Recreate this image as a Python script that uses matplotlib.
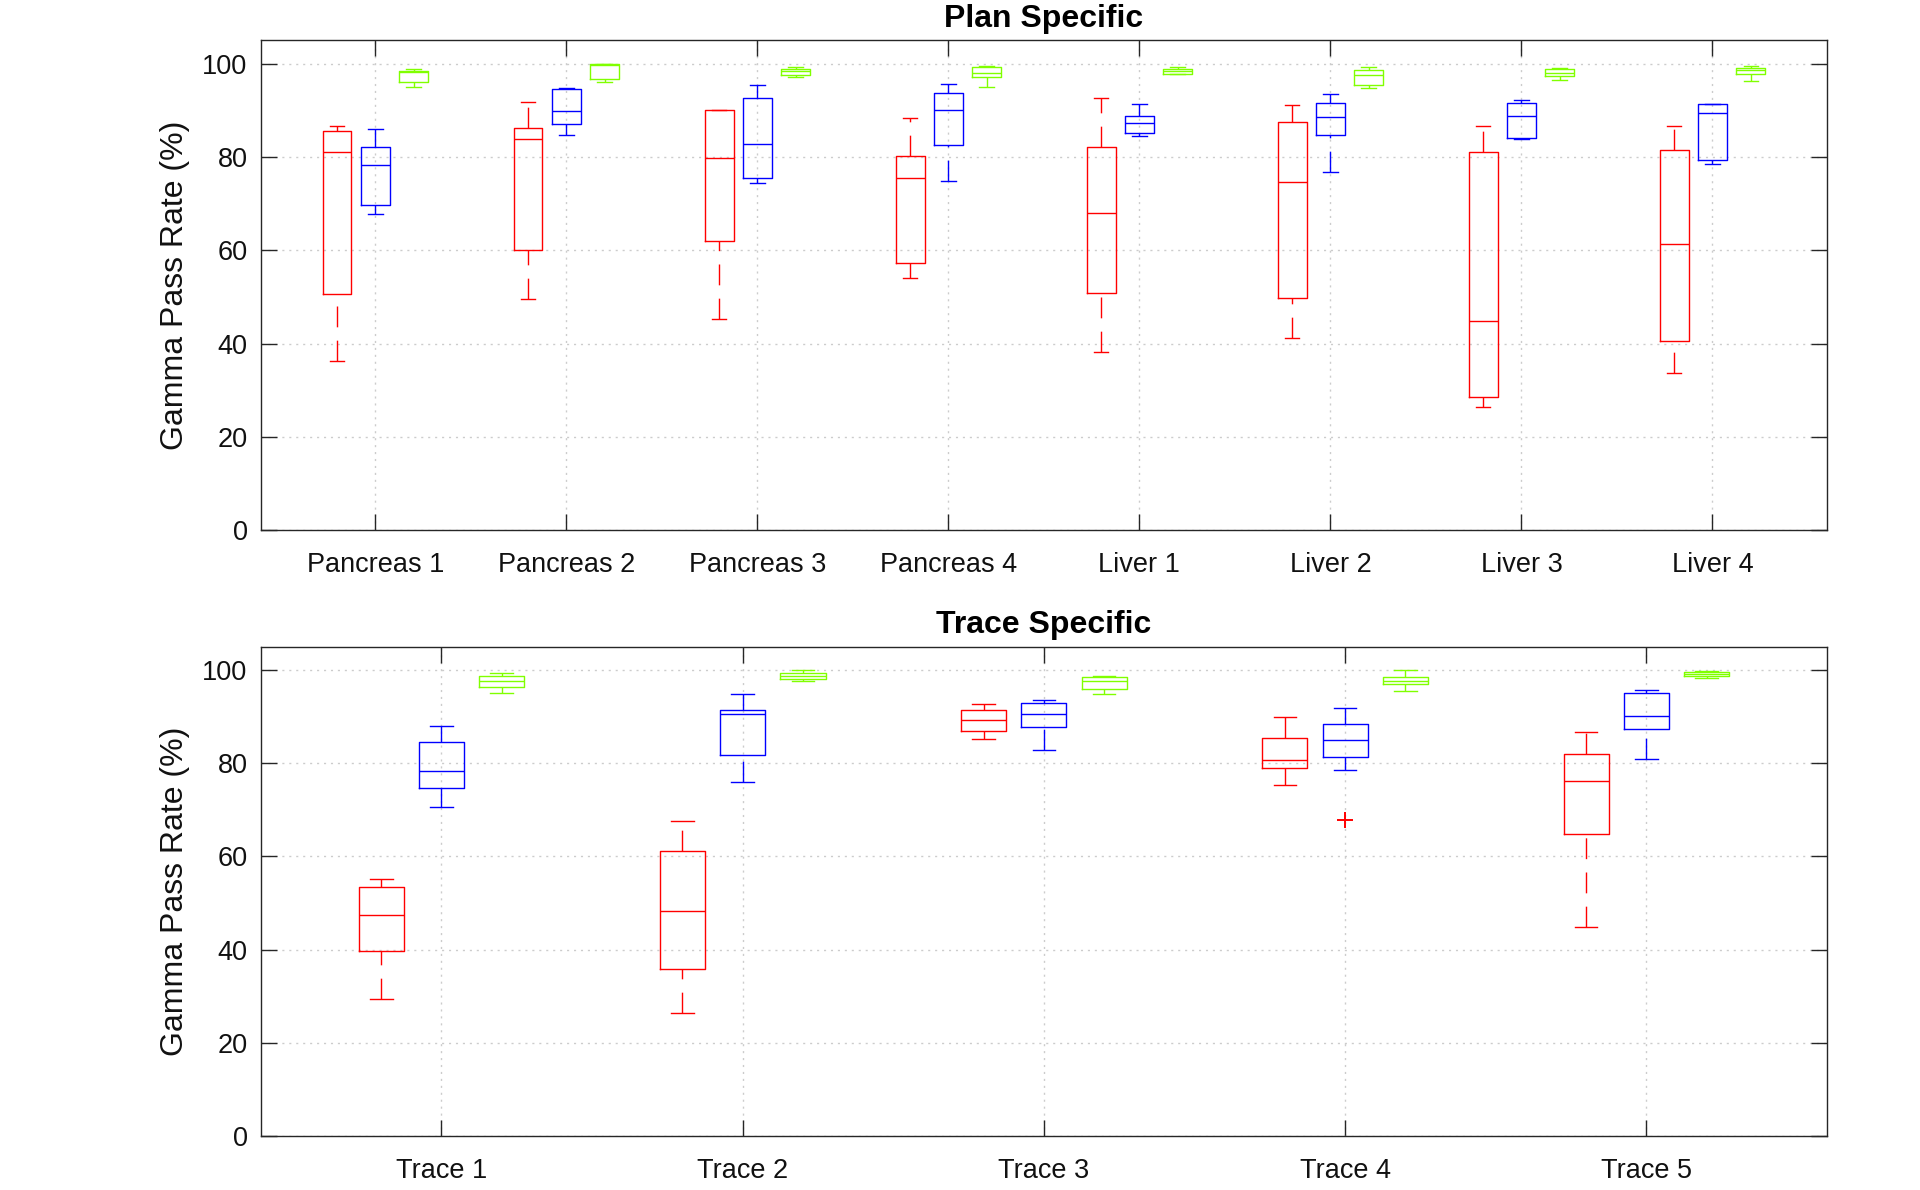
import matplotlib
matplotlib.use("Agg")
import matplotlib.pyplot as plt
import numpy as np

plt.rcParams['font.family'] = ['Liberation Sans', 'DejaVu Sans']
plt.rcParams['lines.scale_dashes'] = False

# box stats per group: [lower whisker, q1, median, q3, upper whisker]
PLAN_LABELS = ['Pancreas 1', 'Pancreas 2', 'Pancreas 3', 'Pancreas 4',
               'Liver 1', 'Liver 2', 'Liver 3', 'Liver 4']
plan_red = [[36.2, 50.6, 81.0, 85.5, 86.6],
            [49.5, 60.1, 83.9, 86.2, 91.7],
            [45.2, 61.9, 79.8, 90.0, 90.1],
            [54.0, 57.2, 75.4, 80.2, 88.4],
            [38.1, 50.9, 68.1, 82.1, 92.6],
            [41.1, 49.7, 74.7, 87.6, 91.1],
            [26.3, 28.6, 44.8, 81.1, 86.7],
            [33.6, 40.6, 61.3, 81.6, 86.7]]
plan_blue = [[67.8, 69.8, 78.2, 82.2, 86.1],
             [84.7, 87.0, 89.9, 94.5, 94.9],
             [74.4, 75.5, 82.8, 92.7, 95.4],
             [74.8, 82.5, 90.1, 93.8, 95.6],
             [84.6, 85.2, 87.3, 88.8, 91.4],
             [76.7, 84.8, 88.6, 91.6, 93.6],
             [83.9, 84.1, 88.8, 91.6, 92.2],
             [78.5, 79.3, 89.5, 91.3, 91.4]]
plan_green = [[95.1, 96.1, 98.3, 98.4, 98.9],
              [96.1, 96.8, 99.8, 99.9, 99.95],
              [97.1, 97.6, 98.4, 98.8, 99.3],
              [95.0, 97.2, 98.1, 99.4, 99.6],
              [97.7, 97.9, 98.4, 98.8, 99.3],
              [94.8, 95.4, 97.6, 98.6, 99.3],
              [96.6, 97.3, 98.1, 98.9, 99.0],
              [96.4, 97.9, 98.6, 99.1, 99.6]]

TRACE_LABELS = ['Trace 1', 'Trace 2', 'Trace 3', 'Trace 4', 'Trace 5']
trace_red = [[29.3, 39.6, 47.4, 53.4, 55.2],
             [26.4, 35.9, 48.2, 61.1, 67.6],
             [85.2, 86.9, 89.3, 91.4, 92.6],
             [75.4, 79.0, 80.6, 85.4, 89.9],
             [44.8, 64.7, 76.1, 81.9, 86.6]]
trace_blue = [[70.5, 74.6, 78.2, 84.5, 87.9],
              [75.9, 81.8, 90.6, 91.4, 94.9],
              [82.9, 87.8, 90.6, 92.8, 93.6],
              [78.6, 81.3, 85.0, 88.3, 91.9],
              [80.9, 87.4, 90.1, 95.0, 95.6]]
trace_green = [[95.1, 96.4, 97.6, 98.7, 99.3],
               [97.6, 98.0, 98.6, 99.3, 99.9],
               [94.9, 95.9, 97.6, 98.4, 98.7],
               [95.4, 96.9, 97.7, 98.4, 100.0],
               [98.2, 98.6, 99.1, 99.5, 99.8]]
trace_red_fliers = [[], [], [], [67.8], []]

COLORS = ['#ff0000', '#0000ff', '#80ff00']
OFFSETS = [-0.2, 0.0, 0.2]
AX_COLOR = '#262626'


def draw_panel(ax, labels, series_list, title, fliers=None):
    pos = np.arange(1, len(labels) + 1)
    for series, color, off in zip(series_list, COLORS, OFFSETS):
        stats = [dict(whislo=s[0], q1=s[1], med=s[2], q3=s[3], whishi=s[4])
                 for s in series]
        art = ax.bxp(stats, positions=pos + off, widths=0.15, capwidths=0.075,
                     showfliers=False, manage_ticks=False,
                     boxprops=dict(color=color, lw=1.0),
                     medianprops=dict(color=color, lw=1.0),
                     whiskerprops=dict(color=color, lw=1.0,
                                       linestyle=(0, (15, 9.6))),
                     capprops=dict(color=color, lw=1.0))
        # lower whiskers start their dash pattern at the cap
        for w in art['whiskers'][0::2]:
            w.set_ydata(w.get_ydata()[::-1])
    if fliers is not None:
        for p, vals in zip(pos, fliers):
            for v in vals:
                ax.plot(p, v, '+', color=COLORS[0], ms=12, mew=1.4)

    ax.set_xlim(0.4, len(labels) + 0.6)
    ax.set_ylim(0, 105)
    ax.set_xticks(pos)
    ax.set_xticklabels(labels)
    ax.set_yticks(np.arange(0, 101, 20))
    ax.tick_params(direction='in', length=11.5, width=1.0, colors=AX_COLOR,
                   top=True, right=True, labelsize=19.5, labelcolor='#111111')
    ax.tick_params(axis='x', pad=15.5)
    ax.tick_params(axis='y', pad=9.5)
    for sp in ax.spines.values():
        sp.set_color(AX_COLOR)
        sp.set_linewidth(1.0)
    ax.grid(True, color='#cccccc', linestyle=(0, (1.5, 3.5)), lw=1.0)
    ax.set_axisbelow(True)
    ax.set_title(title, fontsize=23, fontweight='bold', pad=10)
    ax.set_ylabel('Gamma Pass Rate (%)', fontsize=23, color='#111111')
    ax.yaxis.set_label_coords(-0.045, 0.5)


fig = plt.figure(figsize=(19.2, 11.9), dpi=100)
ax1 = fig.add_axes([0.1358, 0.5546, 0.8158, 0.4114])
ax2 = fig.add_axes([0.1358, 0.0454, 0.8158, 0.4113])

draw_panel(ax1, PLAN_LABELS, [plan_red, plan_blue, plan_green], 'Plan Specific')
draw_panel(ax2, TRACE_LABELS, [trace_red, trace_blue, trace_green],
           'Trace Specific', trace_red_fliers)

fig.savefig('out.png', dpi=100)
